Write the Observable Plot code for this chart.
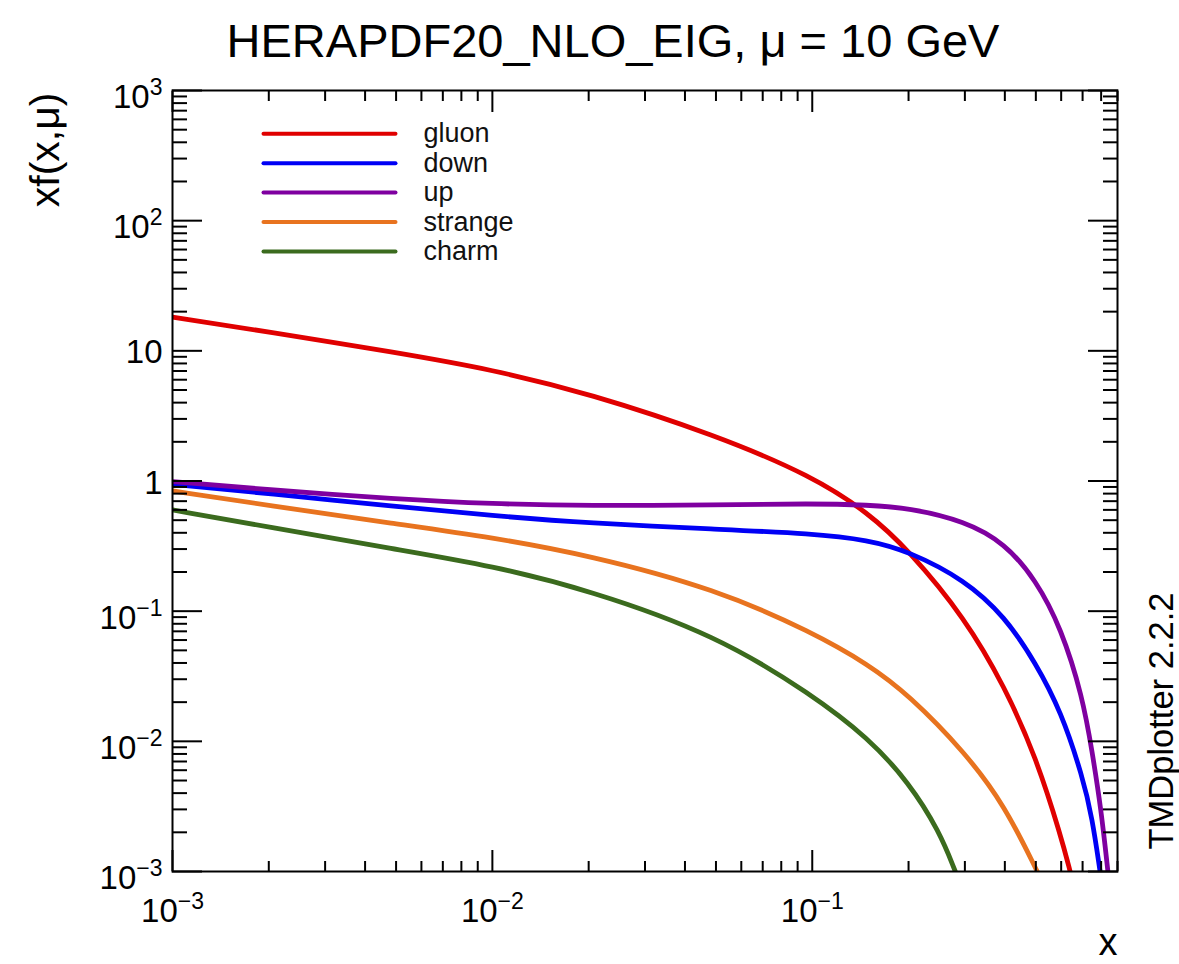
<!DOCTYPE html>
<html><head><meta charset="utf-8">
<script src="https://cdn.jsdelivr.net/npm/d3@7"></script>
<script src="https://cdn.jsdelivr.net/npm/@observablehq/plot@0.6"></script>
<style>html,body{margin:0;padding:0;background:#fff;} #chart svg{display:block;}</style>
</head><body><div id="chart"></div>
<script>
const title = "HERAPDF20_NLO_EIG, μ = 10 GeV";
const yTitle = "xf(x,μ)";
const xTitle = "x";
const sideNote = "TMDplotter 2.2.2";

const seriesNames = ["gluon", "down", "up", "strange", "charm"];
const seriesColors = ["#e00000", "#0000f5", "#7f00a0", "#e8731f", "#3b6b1e"];

const gluonX = [0.001, 0.002, 0.005, 0.01, 0.02, 0.05, 0.1, 0.15, 0.2, 0.3, 0.4, 0.5, 0.6, 0.64];
const gluonY = [18.14, 14.0, 9.69, 7.17, 4.71, 2.25, 1.09, 0.568, 0.295, 0.0889, 0.0262, 0.00761, 0.00185, 0.001];

const downX = [0.001, 0.002, 0.005, 0.01, 0.02, 0.05, 0.1, 0.15, 0.2, 0.3, 0.4, 0.5, 0.6, 0.7, 0.75, 0.794];
const downY = [0.945, 0.80, 0.637, 0.541, 0.474, 0.426, 0.395, 0.352, 0.289, 0.174, 0.091, 0.0399, 0.0169, 0.00535, 0.00259, 0.001];

const upX = [0.001, 0.002, 0.005, 0.01, 0.02, 0.05, 0.1, 0.15, 0.2, 0.3, 0.4, 0.5, 0.6, 0.7, 0.75, 0.8, 0.84];
const upY = [0.99, 0.855, 0.726, 0.667, 0.643, 0.654, 0.672, 0.654, 0.621, 0.493, 0.333, 0.174, 0.0741, 0.022, 0.00832, 0.00299, 0.001];

const strangeX = [0.001, 0.002, 0.005, 0.01, 0.02, 0.05, 0.1, 0.15, 0.2, 0.3, 0.4, 0.505];
const strangeY = [0.838, 0.650, 0.468, 0.368, 0.2695, 0.148, 0.0688, 0.0389, 0.0228, 0.00826, 0.00321, 0.001];

const charmX = [0.001, 0.002, 0.005, 0.01, 0.02, 0.05, 0.1, 0.15, 0.2, 0.25, 0.28];
const charmY = [0.599, 0.4436, 0.298, 0.2227, 0.1455, 0.0658, 0.0228, 0.01058, 0.00487, 0.00203, 0.001];

const yMajorTicks = [1e-3, 1e-2, 1e-1, 1, 10, 100, 1000];
const yTickLabels = ["10^-3", "10^-2", "10^-1", "1", "10", "10^2", "10^3"];
const xMajorTicks = [1e-3, 1e-2, 1e-1];
const xTickLabels = ["10^-3", "10^-2", "10^-1"];
const minorMantissas = [2, 3, 4, 5, 6, 7, 8, 9];

const xDomain = [1e-3, 0.9];
const yDomain = [1e-3, 1e3];

const yMinorTicks = yMajorTicks.slice(0, -1).flatMap(p => minorMantissas.map(m => m * p));
const xMinorTicks = xMajorTicks.flatMap(p => minorMantissas.map(m => m * p)).filter(v => v <= xDomain[1] + 1e-9);

const seriesX = [gluonX, downX, upX, strangeX, charmX];
const seriesY = [gluonY, downY, upY, strangeY, charmY];
const rows = seriesNames.flatMap((name, s) => seriesX[s].map((x, i) => ({name, x, y: seriesY[s][i]})));

const font = "Liberation Sans, Arial, Helvetica, sans-serif";
const lineShape = {draw(context, l) { context.moveTo(0, 0); context.lineTo(0, -l); }};

const tickOpts = {label: null, fill: "none", strokeWidth: 2};

const legendMarks = seriesNames.flatMap((name, i) => [
  Plot.vector([name], {frameAnchor: "top-left", dx: 91, dy: 43.3 + 29.4 * i, length: 132, rotate: 90,
    anchor: "start", shape: lineShape, stroke: seriesColors[i], strokeWidth: 4}),
  Plot.text([name], {frameAnchor: "top-left", dx: 251, dy: 43.3 + 29.4 * i, text: d => d,
    textAnchor: "start", lineAnchor: "middle", fontSize: 27, fill: "#111"})
]);

const chart = Plot.plot({
  width: 1179,
  height: 964,
  marginLeft: 172,
  marginRight: 62,
  marginTop: 90,
  marginBottom: 93,
  style: {fontFamily: font, background: "white", color: "black"},
  x: {type: "log", domain: xDomain},
  y: {type: "log", domain: yDomain},
  color: {domain: seriesNames, range: seriesColors},
  marks: [
    Plot.line(rows, {x: "x", y: "y", z: "name", stroke: "name", strokeWidth: 4.8, curve: "basis", clip: true}),
    Plot.frame({stroke: "black", strokeWidth: 2}),
    Plot.axisY({...tickOpts, ticks: yMajorTicks, anchor: "left", tickSize: -30}),
    Plot.axisY({...tickOpts, ticks: yMinorTicks, anchor: "left", tickSize: -15}),
    Plot.axisY({...tickOpts, ticks: yMajorTicks, anchor: "right", tickSize: -30}),
    Plot.axisY({...tickOpts, ticks: yMinorTicks, anchor: "right", tickSize: -15}),
    Plot.axisX({...tickOpts, ticks: xMajorTicks, anchor: "bottom", tickSize: -21}),
    Plot.axisX({...tickOpts, ticks: xMinorTicks, anchor: "bottom", tickSize: -10}),
    Plot.axisX({...tickOpts, ticks: xMajorTicks, anchor: "top", tickSize: -21}),
    Plot.axisX({...tickOpts, ticks: xMinorTicks, anchor: "top", tickSize: -10}),
    Plot.axisY({ticks: yMajorTicks, anchor: "left", tickSize: 0, tickPadding: 10, label: null, fontSize: 33, dy: 2,
      tickFormat: d => yTickLabels[yMajorTicks.indexOf(d)]}),
    Plot.axisX({ticks: xMajorTicks, anchor: "bottom", tickSize: 0, tickPadding: 27, label: null, fontSize: 33,
      tickFormat: d => xTickLabels[xMajorTicks.indexOf(d)]}),
    Plot.text([title], {frameAnchor: "top", dx: -32, dy: -34, text: d => d, lineAnchor: "bottom", fontSize: 47, fill: "black"}),
    Plot.text([yTitle], {frameAnchor: "top-left", dx: -114, dy: 2, text: d => d, rotate: -90, textAnchor: "end", lineAnchor: "bottom", fontSize: 41, fill: "black"}),
    Plot.text([sideNote], {frameAnchor: "bottom-right", dx: 55, dy: -22, text: d => d, rotate: -90, textAnchor: "start", lineAnchor: "bottom", fontSize: 34.5, fill: "black"}),
    Plot.text([xTitle], {frameAnchor: "bottom-right", dy: 83, text: d => d, textAnchor: "end", lineAnchor: "bottom", fontSize: 38, fill: "black"}),
    ...legendMarks
  ]
});

function supify(svg, sel, baseDy, supDy, supSize) {
  d3.select(svg).selectAll(sel).each(function() {
    const s = this.textContent;
    const k = s.indexOf("^");
    if (k < 0) return;
    const base = s.slice(0, k), exp = s.slice(k + 1).replace("-", "\u2212");
    this.textContent = "";
    const t = d3.select(this);
    t.append("tspan").attr("dy", baseDy).text(base);
    t.append("tspan").attr("dy", supDy).attr("font-size", supSize).text(exp);
  });
}
supify(chart, 'g[aria-label="y-axis tick label"] text', 5, -13, 23);
supify(chart, 'g[aria-label="x-axis tick label"] text', 0, -13, 23);

document.getElementById("chart").appendChild(chart);
</script>
</body></html>
